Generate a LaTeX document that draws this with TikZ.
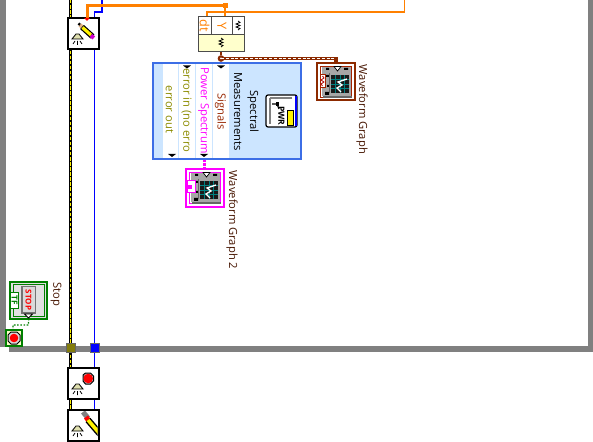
\documentclass[tikz,border=0pt]{standalone}
\usepackage{fontspec}
\setmainfont{Open Sans}
\definecolor{framegray}{HTML}{808080}
\definecolor{wireorange}{HTML}{FF8000}
\definecolor{wirebrown}{HTML}{8C2A00}
\definecolor{wireblue}{HTML}{0000FF}
\definecolor{panelblue}{HTML}{CCE5FF}
\definecolor{panelline}{HTML}{3C6EE6}
\definecolor{paleyellow}{HTML}{FFFFCC}
\definecolor{olivetxt}{HTML}{8C8C00}
\definecolor{magentawire}{HTML}{FF00FF}
\definecolor{greenwire}{HTML}{008000}
\definecolor{stopred}{HTML}{FF0000}
\newcommand\lbl{\fontsize{8.4pt}{9pt}\selectfont}
\tikzset{
  x=0.75pt,y=-0.75pt,
  px/.style={line width=#1*0.75pt},
  pxbox/.style 2 args={rectangle,minimum width=#1*0.75pt,minimum height=#2*0.75pt,inner sep=0pt,outer sep=0pt},
  rotlabel/.style={rotate=-90,inner sep=0pt,font=\lbl,text=#1},
  propnode/.style={pxbox={31}{31},draw=black,px=2,fill=white},
  errcore/.style={draw=black,px=3},
  errdash/.style={draw=yellow,px=1.4,dash pattern=on 2.6pt off 1.2pt},
  orangethick/.style={draw=wireorange,px=3},
  orangethin/.style={draw=wireorange,px=1.3},
  bluewire/.style={draw=wireblue,px=1.8},
  tunnel/.style={pxbox={9}{9},draw=black!60,px=1},
  column/.style={pxbox={#1}{95},draw=panelblue,px=0.6,fill=white},
  tick/.style={fill=black,draw=none},
}
\newcommand\lamp[2]{%
  \begin{scope}[shift={(#1,#2)}]
    \fill[paleyellow!60!olive!60,draw=black,px=0.8] (0,6) -- (4,1) -- (7,1) -- (11,6) -- cycle;
    \draw[black,px=0.8] (5.5,8) -- (5.5,12) (3,8) -- (1,11) (8,8) -- (10,11);
  \end{scope}}
\newcommand\wiggle[3]{%
  \draw[#3,px=0.8] (#1,#2) -- ++(2,1.5) -- ++(-4,1.5) -- ++(4,1.5) -- ++(-4,1.5) -- ++(4,1.5) -- ++(-2,1.5);}
\newcommand\graphbody[3]{%
  \begin{scope}[shift={(#1,#2)}]
    \draw[#3,px=1.6] (3.5,3.5) rectangle (34.5,34.5);
    \fill[black!35] (5,4.5) rectangle (34,33.5);
    \fill[black!60] (6,33) rectangle (35,35);
    \fill[black!90] (14,12) rectangle (32,30);
    \draw[teal,px=0.7] (14,16.5)--(32,16.5) (14,21)--(32,21) (14,25.5)--(32,25.5)
       (18.5,12)--(18.5,30) (23,12)--(23,30) (27.5,12)--(27.5,30);
    \draw[white,px=1.3] (30,16) -- (21,19) -- (25,22) -- (20,25) -- (24,29);
    \fill[white,draw=black,px=0.7] (17,3.5) -- (24,3.5) -- (20.5,8) -- cycle;
    \fill[black] (9,5) rectangle (12,7) (27,5) rectangle (31,7) (9,12) rectangle (12,14)
       (10,22) rectangle (12,24) (8,29) rectangle (12,32);
    \draw[black!60,px=1] (12,10)--(12,30);
  \end{scope}}
\begin{document}
\begin{tikzpicture}
\useasboundingbox (0,0) rectangle (593,442);
\fill[white] (0,0) rectangle (593,442);
% frame
\fill[framegray] (0,0) rectangle (6,347);
\fill[framegray] (9,346) rectangle (592.7,352);
\fill[framegray] (588,0) rectangle (592.7,352);
\coordinate (errtop) at (70.5,0);
\coordinate (errbot) at (70.5,442);
\coordinate (bluetop) at (102,0);
\coordinate (bluebot) at (94.5,442);
\coordinate (thinend) at (404.5,0);
% wires under the nodes
\draw[errcore] (errtop) -- (errbot);
\draw[errdash] (errtop) -- (errbot);
\draw[bluewire] (bluetop) -- (102,12) -- (94.5,12) -- (bluebot);
% nodes
\node[propnode] (prop1) at (83,33.5) {};
\node[propnode] (prop2) at (83,383.5) {};
\node[propnode] (prop3) at (83,425.5) {};
\node[tunnel,fill=olive!90!black] (tunL) at (70.5,347.5) {};
\node[tunnel,fill=wireblue] (tunB) at (94.5,347.5) {};
\node[pxbox={46}{35},draw=black!70,px=1,fill=paleyellow] (bundle) at (221,34.5) {};
\node[pxbox={148}{96},draw=panelline,px=1.2,fill=panelblue] (spec) at (227,111) {};
\node[pxbox={38}{37},draw=wirebrown,px=1.2,fill=white] (graph1) at (336,81.5) {};
\node[pxbox={38}{38},draw=magentawire,px=1.2,fill=white] (graph2) at (205,188) {};
\node[pxbox={37}{37},draw=greenwire,px=2,fill=black!12] (stopctl) at (28.7,300.3) {};
\node[pxbox={16}{16},draw=greenwire,px=1.2,fill=paleyellow] (stopterm) at (14,338) {};
\node[circle,fill=wirebrown,inner sep=0pt,minimum size=5pt] (junc) at (221,58.5) {};
% wires
\draw[orangethick] (87,18) -- (87,5.7) -- (228,5.7);
\fill[wireorange] (222.5,3.5) rectangle (227.5,8);
\fill[stopred] (84,18) -- (90,18) -- (87,21) -- cycle;
\draw[orangethin,px=1.6] (225,6) -- (225,17);
\draw[orangethin] (207,17) -- (207,12) -- (404.5,12) -- (thinend);
\draw[draw=wirebrown,px=2] (bundle.south) -- (junc);
\draw[draw=wirebrown,px=3.4] (junc.center) -- (336,58.5) -- (graph1.north);
\draw[draw=white,px=1.2,dash pattern=on 2.2pt off 1.4pt] (junc.center) -- (335.5,58.5);
\fill[white] (221,58.5) circle[radius=1];
\draw[draw=magentawire,px=3,dash pattern=on 2.2pt off 0.8pt] (spec.south -| 204,0) -- (graph2.north -| 204,0);
\draw[draw=greenwire,px=1.2,dash pattern=on 1.2pt off 1.2pt] (stopctl.south) -- (28.5,325) -- (13,325) -- (stopterm.north -| 13,0);
% bundle details
\fill[white] (198.5,17.5) rectangle (243.5,35);
\draw[black!70,px=1] (bundle.north west) rectangle (bundle.south east) (198,35) -- (244,35) (211,17) -- (211,35) (232,17) -- (232,35);
\node[rotlabel=wireorange,font=\fontsize{9.5pt}{9pt}\selectfont] (dtlabel) at (204.5,26) {dt};
\node[rotlabel=wireorange,font=\fontsize{9.5pt}{9pt}\selectfont] (ylabel) at (222,26) {Y};
\wiggle{238}{21}{black}
\wiggle{221}{38}{black}
% spectral panel columns
\node[column=16.5] (colA) at (170.2,111) {};
\node[column=17] (colB) at (186.8,111) {};
\node[column=17] (colC) at (203.5,111) {};
\node[column=17] (colD) at (220.5,111) {};
\draw[panelline,px=1.2] (spec.north west) rectangle (spec.south east);
\node[rotlabel=olivetxt] (lblErrOut) at (169.5,109.5) {error out};
\begin{scope}
\clip (178,63) rectangle (195,152);
\node[rotlabel=olivetxt,anchor=west] (lblErrIn) at (186.5,68) {error in (no error};
\end{scope}
\begin{scope}
\clip (195,63) rectangle (212,154);
\node[rotlabel=magentawire,anchor=west] (lblPower) at (203.5,67) {Power Spectrum};
\end{scope}
\node[rotlabel=wirebrown!90!red] (lblSignals) at (220.5,111.5) {Signals};
\node[rotlabel=black] (lblMeas) at (238,111.5) {Measurements};
\node[rotlabel=black] (lblSpec) at (253,111.5) {Spectral};
\fill[tick] (168,154) -- (176,154) -- (172,157) -- cycle;
\fill[tick] (183,65.5) -- (191,65.5) -- (187,68.5) -- cycle;
\fill[tick] (200,154) -- (208,154) -- (204,157) -- cycle;
\fill[tick] (217,65.5) -- (225,65.5) -- (221,68.5) -- cycle;
% PWR icon
\node[pxbox={31}{32},rounded corners=1.5pt,draw=black,px=1.2,fill=white] (pwr) at (281.5,111) {};
\fill[wireblue] (294.5,96) rectangle (296.8,126);
\fill[yellow,draw=black,px=0.5] (287,110) rectangle (293,125.5);
\draw[black!50,px=1.2] (270,98) -- (292,98) (270,98) -- (270,124);
\draw[black,px=1.2] (272,104) -- (277,104) -- (279,109);
\fill[black] (276,102) rectangle (279,106);
\node[rotlabel=black,font=\fontsize{6.4pt}{7pt}\selectfont\bfseries] (pwrtext) at (281.5,116) {PWR};
% graphs
\graphbody{317}{63}{wirebrown!80!red}
\fill[white,draw=wirebrown!80!red,px=1] (320,75) -- (325,75) -- (325,88) -- (320,88) -- cycle;
\draw[stopred!70!black,px=0.8] (322.5,76) -- ++(1.5,2) -- ++(-3,2) -- ++(3,2) -- ++(-3,2) -- ++(1.5,2);
\graphbody{186}{169}{magentawire}
\fill[white,draw=magentawire,px=1] (187,181) -- (195,181) -- (195,193) -- (187,193) -- cycle;
\fill[magentawire] (187,185) rectangle (192,189);
\node[rotlabel=wirebrown!50!black,anchor=west] (lblG1) at (362,64.5) {Waveform Graph};
\node[rotlabel=wirebrown!50!black,anchor=west] (lblG2) at (232,170.5) {Waveform Graph 2};
% stop control
\draw[greenwire,px=1] (13,284.5) rectangle (44.5,316);
\fill[black!55] (21,286) rectangle (36,313.5);
\fill[black!15] (22.5,287.5) rectangle (34.5,312);
\node[rotlabel=stopred,font=\fontsize{6pt}{6pt}\selectfont\bfseries] (stoptext) at (28.5,300) {STOP};
\fill[white,draw=greenwire,px=1] (10.5,292.5) rectangle (18.5,308);
\node[rotlabel=greenwire,font=\fontsize{6.2pt}{6pt}\selectfont\bfseries] (tflabel) at (14.5,300.2) {TF};
\fill[white,draw=black,px=0.8] (24.5,314) -- (32.5,314) -- (28.5,318) -- cycle;
\node[rotlabel=wirebrown!50!black,anchor=west] (lblStop) at (56,282.5) {Stop};
% stop terminal
\fill[black!15,draw=black,px=1] (8,335) -- (11,332) -- (17,332) -- (20,335) -- (20,341) -- (17,344) -- (11,344) -- (8,341) -- cycle;
\fill[stopred] (14,338) circle[radius=4.3];
% property node glyphs
\draw[black,px=2.5] (78.5,23.5) -- (81,25.8);
\draw[black!20!orange!50,px=4] (80,25) -- (82.5,27.3);
\draw[black,px=5.6] (82,27) -- (92.5,36.5);
\draw[yellow,px=3.2] (82.5,27.5) -- (91,35);
\draw[magentawire!80!black,px=4] (91,35.5) -- (93.8,38);
\lamp{72}{33}
\fill[black!30,draw=black,px=1] (83,375) -- (85.5,373) -- (90.5,373) -- (93.5,376) -- (93.5,381) -- (90.5,384) -- (85.5,384) -- (83,381) -- cycle;
\fill[stopred] (88.2,378.5) circle[radius=4.8];
\lamp{72}{383}
\begin{scope}
\clip (68.5,411) rectangle (97.5,440);
\draw[black!50,px=5] (83,412) -- (88,418);
\draw[stopred,px=5] (86,417) -- (89,421);
\draw[black,px=6.5] (88,420) -- (100,434);
\draw[yellow,px=3.6] (88,420) -- (100,434);
\end{scope}
\lamp{72}{425}
\end{tikzpicture}
\end{document}
